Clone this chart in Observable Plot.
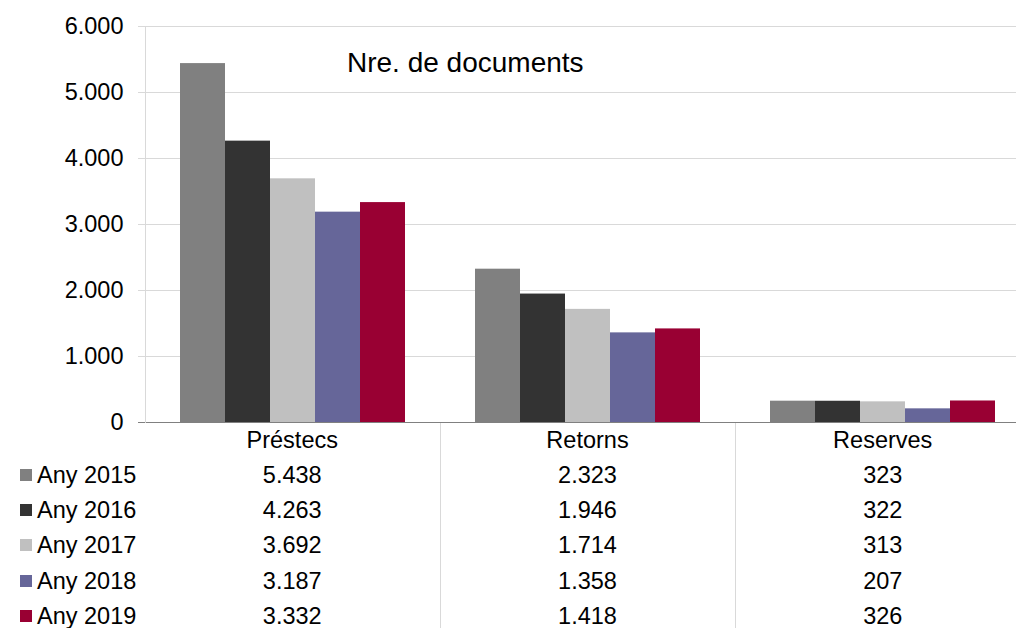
<!DOCTYPE html>
<html>
<head>
<meta charset="utf-8">
<script src="https://cdn.jsdelivr.net/npm/d3@7"></script>
<script src="https://cdn.jsdelivr.net/npm/@observablehq/plot@0.6"></script>
<style>
  html, body { margin: 0; padding: 0; background: #fff; overflow: hidden; }
  #wrap { position: relative; width: 1016px; height: 628px; overflow: hidden; font-family: 'Liberation Sans', Arial, sans-serif; color: #000; }
  #chart svg { display: block; overflow: visible; }
  #title { position: absolute; left: 347px; top: 49px; font-size: 28px; line-height: 28px; white-space: nowrap; }
  table.dt { position: absolute; left: 0; top: 422.5px; border-collapse: collapse; table-layout: fixed; width: 1030px; font-size: 23.5px; }
  table.dt td { height: 35.3px; padding: 0; text-align: center; white-space: nowrap; line-height: 35.3px; }
  table.dt td.lab { text-align: left; padding-left: 20px; }
  table.dt td:nth-child(3), table.dt td:nth-child(4) { border-left: 1px solid #d9d9d9; }
  .sw { display: inline-block; width: 12px; height: 12px; margin-right: 5px; vertical-align: 2px; }
</style>
</head>
<body>
<div id="wrap">
  <div id="chart"></div>
  <div id="title"></div>
</div>
<script>
const title = "Nre. de documents";
const categories = ["Préstecs", "Retorns", "Reserves"];
const series = ["Any 2015", "Any 2016", "Any 2017", "Any 2018", "Any 2019"];
const colors = ["#808080", "#333333", "#c0c0c0", "#666699", "#990033"];
const prestecs = [5438, 4263, 3692, 3187, 3332];
const retorns = [2323, 1946, 1714, 1358, 1418];
const reserves = [323, 322, 313, 207, 326];
const yTicks = [0, 1000, 2000, 3000, 4000, 5000, 6000];

const valuesByCat = [prestecs, retorns, reserves];
const data = [];
categories.forEach((c, ci) => series.forEach((s, si) => data.push({category: c, series: s, value: valuesByCat[ci][si]})));

const fmt = d3.formatLocale({decimal: ",", thousands: ".", grouping: [3], currency: ["", ""]}).format(",d");

const chart = Plot.plot({
  width: 1016,
  height: 423,
  marginTop: 26,
  marginRight: 0,
  marginBottom: 1,
  marginLeft: 145,
  style: {fontFamily: "'Liberation Sans', Arial, sans-serif", fontSize: "23.5px", color: "#000", background: "transparent", overflow: "visible"},
  fx: {domain: categories, range: [145, 1030], padding: 0, axis: null},
  x: {domain: series, paddingInner: 0, paddingOuter: 0.75, axis: null},
  y: {domain: [0, 6000], axis: null},
  color: {domain: series, range: colors},
  marks: [
    Plot.gridY(yTicks.slice(1), {stroke: "#d9d9d9", strokeOpacity: 1, strokeWidth: 1}),
    Plot.barY(data, {fx: "category", x: "series", y: "value", fill: "series"}),
    Plot.ruleY([0], {stroke: "#808080", strokeWidth: 1}),
    Plot.axisY(yTicks.slice(1), {tickSize: 7, tickPadding: 15, tickFormat: fmt, stroke: "#d9d9d9", color: "#000", fontSize: 23.5, label: null}),
    Plot.axisY([0], {tickSize: 7, tickPadding: 15, tickFormat: fmt, stroke: "#808080", color: "#000", fontSize: 23.5, label: null}),
    Plot.frame({anchor: "left", stroke: "#d9d9d9", facetAnchor: "left"})
  ]
});
document.getElementById("chart").appendChild(chart);
document.getElementById("title").textContent = title;

// data table below the chart
const table = document.createElement("table");
table.className = "dt";
const colgroup = document.createElement("colgroup");
[145, 295, 295, 295].forEach(w => { const col = document.createElement("col"); col.style.width = w + "px"; colgroup.appendChild(col); });
table.appendChild(colgroup);
const head = document.createElement("tr");
head.appendChild(document.createElement("td"));
categories.forEach(c => { const td = document.createElement("td"); td.textContent = c; head.appendChild(td); });
table.appendChild(head);
series.forEach((s, si) => {
  const tr = document.createElement("tr");
  const lab = document.createElement("td");
  lab.className = "lab";
  const sw = document.createElement("span");
  sw.className = "sw";
  sw.style.background = colors[si];
  lab.appendChild(sw);
  lab.appendChild(document.createTextNode(s));
  tr.appendChild(lab);
  valuesByCat.forEach(vals => { const td = document.createElement("td"); td.textContent = fmt(vals[si]); tr.appendChild(td); });
  table.appendChild(tr);
});
document.getElementById("wrap").appendChild(table);
</script>
</body>
</html>
